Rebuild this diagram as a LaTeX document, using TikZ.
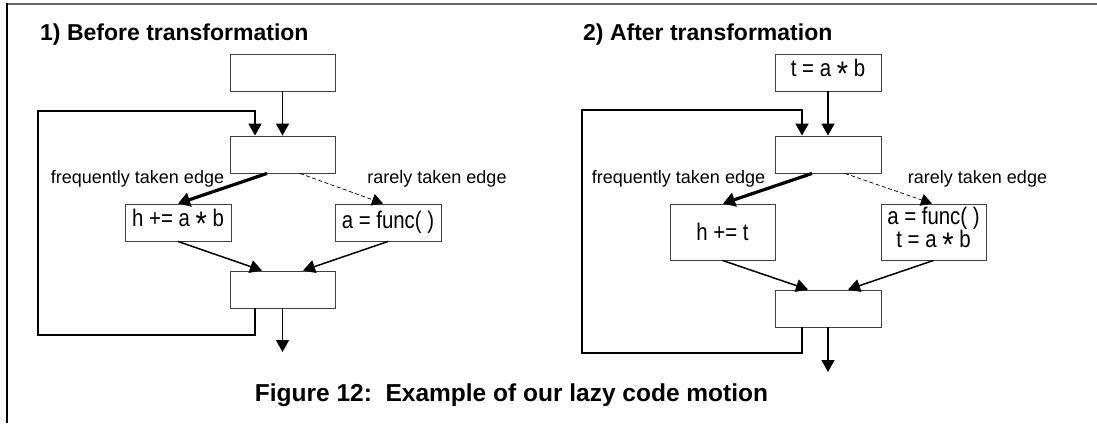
\documentclass[tikz,border=0pt]{standalone}
\usepackage{fontspec}
\setmainfont{Liberation Sans}
\newfontfamily\boxfont[FakeStretch=0.85]{Liberation Sans}
\usetikzlibrary{arrows.meta}
\newcommand\midast{\raisebox{-0.75ex}{\fontsize{34}{34}\selectfont *}}
\begin{document}
\begin{tikzpicture}[x=1pt,y=-1pt,
  blk/.style={draw=black!75, line width=0.9pt, inner sep=0pt, align=center,
    font=\boxfont\fontsize{24}{24}\selectfont},
  sblk/.style={blk, minimum width=105pt, minimum height=37pt},
  tblk/.style={blk, minimum width=105pt, minimum height=56pt},
  tip/.style={-{Triangle[length=12pt,width=13pt]}},
  arr/.style={line width=1.5pt, tip},
  thk/.style={line width=3.2pt, -{Triangle[length=12pt,width=14pt]}},
  rare/.style={line width=0.7pt, dashed, dash pattern=on 4pt off 2.5pt, -{Triangle[length=11pt,width=12pt]}},
  loop/.style={line width=1.8pt, tip},
  elab/.style={anchor=base, inner sep=0pt, font=\fontsize{18}{18}\selectfont},
  ttl/.style={anchor=base west, inner sep=0pt, font=\bfseries\fontsize{23}{23}\selectfont},
]
\useasboundingbox (0,0) rectangle (1097,423);
\fill[white] (0,0) rectangle (1097,423);
% frame
\draw[black!60, line width=2pt] (5.5,3.5) -- (1097,3.5);
\draw[black, line width=2pt] (6.5,3) -- (6.5,423);

% ---------- left diagram ----------
\node[ttl] (t1) at (40,40) {1) Before transformation};
\node[sblk] (a0) at (282.5,72.5) {};
\node[sblk] (a1) at (282.5,154.5) {};
\node[sblk, minimum width=106pt] (ah) at (178,222.5) {h += a \midast{} b};
\node[sblk, minimum width=106pt] (af) at (388,222.5) {a = func( )};
\node[sblk] (a2) at (282.5,289.5) {};
\node[elab] (al1) at (137.5,183) {frequently taken edge};
\node[elab] (al2) at (437,183) {rarely taken edge};
\coordinate (aex) at (282.5,352);
\coordinate (ac1) at (255,335);
\coordinate (ac2) at (38,335);
\coordinate (ac3) at (38,111);
\coordinate (ac4) at (255,111);

\draw[arr] (a0.south) -- (a1.north);
\draw[thk] ([xshift=-15.5pt]a1.south) -- (ah.north);
\draw[rare] ([xshift=17.5pt]a1.south) -- ([xshift=-5pt]af.north);
\draw[arr] (ah.south) -- ([xshift=-20.5pt]a2.north);
\draw[arr] (af.south) -- ([xshift=20.5pt]a2.north);
\draw[arr] (a2.south) -- (aex);
\draw[loop] ([xshift=-27.5pt]a2.south) -- (ac1) -- (ac2) -- (ac3) -- (ac4) -- ([xshift=-27.5pt]a1.north);

% ---------- right diagram ----------
\node[ttl] (t2) at (583,40) {2) After transformation};
\node[sblk, minimum width=106pt] (b0) at (828,72.5) {t = a \midast{} b};
\node[sblk, minimum width=106pt] (b1) at (828,154.5) {};
\node[tblk] (bh) at (722.5,232) {h += t};
\node[tblk] (bf) at (933.5,232) {a = func( )\\[-1pt] t = a \midast{} b};
\node[sblk, minimum width=106pt] (b2) at (828,308.5) {};
\node[elab] (bl1) at (678.5,183) {frequently taken edge};
\node[elab] (bl2) at (977.5,183) {rarely taken edge};
\coordinate (bex) at (828,372);
\coordinate (bc1) at (802,353);
\coordinate (bc2) at (582,353);
\coordinate (bc3) at (582,110);
\coordinate (bc4) at (802,110);

\draw[arr] (b0.south) -- (b1.north);
\draw[thk] ([xshift=-16pt]b1.south) -- ([xshift=0.5pt]bh.north);
\draw[rare] ([xshift=17pt]b1.south) -- ([xshift=-1.5pt]bf.north);
\draw[arr] (bh.south) -- ([xshift=-20pt]b2.north);
\draw[arr] (bf.south) -- ([xshift=20pt]b2.north);
\draw[arr] (b2.south) -- (bex);
\draw[loop] ([xshift=-26pt]b2.south) -- (bc1) -- (bc2) -- (bc3) -- (bc4) -- ([xshift=-26pt]b1.north);

% caption
\node[anchor=base, inner sep=0pt, font=\bfseries\fontsize{24.5}{24.5}\selectfont] (cap) at (511.5,401) {Figure 12:\ \ Example of our lazy code motion};
\end{tikzpicture}
\end{document}
